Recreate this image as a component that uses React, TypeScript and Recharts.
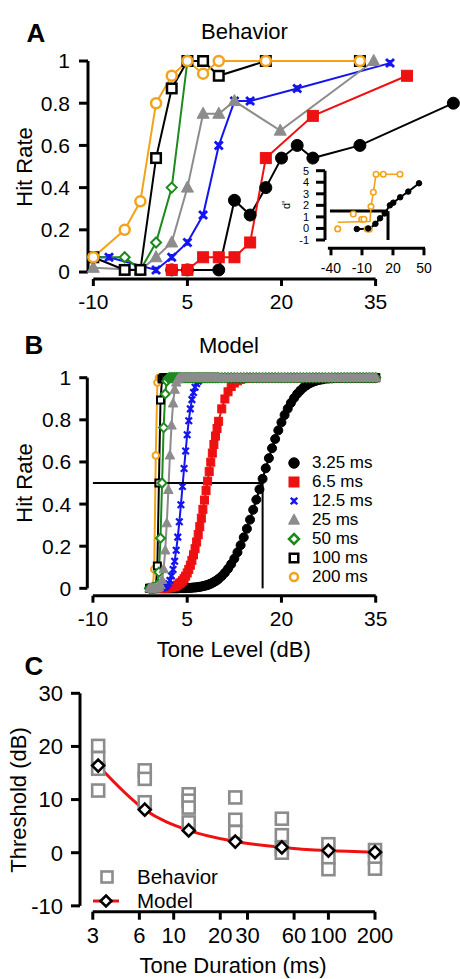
import React from 'react';
import { LineChart, Line, XAxis, YAxis, ReferenceLine, ComposedChart, Scatter } from 'recharts';

const FONT = "'Liberation Sans', Arial, Helvetica, sans-serif";

// ---------------- Panel A: behavior (hit rate vs tone level) ----------------
const behav325Levels = [2.5, 5, 10, 12.5, 15, 17.5, 20, 22.5, 25, 32.5, 47.4];
const behav325Rates = [0.01, 0.01, 0.01, 0.34, 0.27, 0.4, 0.54, 0.6, 0.54, 0.6, 0.8];
const behav65Levels = [2.5, 5, 7.5, 10, 12.5, 15, 17.5, 25, 40];
const behav65Rates = [0.01, 0.01, 0.07, 0.07, 0.07, 0.14, 0.54, 0.74, 0.93];
const behav125Levels = [-10, -7.5, 0, 2.5, 5, 7.5, 10, 12.5, 15, 22.5, 37.3];
const behav125Rates = [0.07, 0.07, 0.01, 0.07, 0.14, 0.27, 0.6, 0.81, 0.81, 0.87, 0.99];
const behav25Levels = [-10, -2.5, 0, 2.5, 5, 7.5, 10, 12.5, 19.8, 34.7];
const behav25Rates = [0.02, 0.01, 0.07, 0.14, 0.4, 0.75, 0.75, 0.81, 0.67, 1.0];
const behav50Levels = [-10, -5, -2.5, 0, 2.5, 5];
const behav50Rates = [0.07, 0.07, 0.01, 0.14, 0.4, 1.0];
const behav100Levels = [-10, -5, -2.5, 0, 2.5, 5, 7.5, 10, 17.5, 32.5];
const behav100Rates = [0.07, 0.01, 0.01, 0.54, 0.87, 1.0, 1.0, 0.93, 1.0, 1.0];
const behav200Levels = [-10, -5, -2.5, 0, 2.5, 5, 7.5, 10, 17.5, 32.5];
const behav200Rates = [0.07, 0.2, 0.335, 0.8, 0.93, 1.0, 0.94, 1.0, 1.0, 1.0];

const hitTicks = [0, 0.2, 0.4, 0.6, 0.8, 1];
const levelTicks = [-10, 5, 20, 35];

// inset (d')
const insetFitLevels = [-33.5, -2.2, -1.3, 1.0, 3.6, 26.8];
const insetFitValues = [0.54, 0.6, 1.89, 3.13, 4.69, 4.69];
const inset200Levels = [-33.5, -18.4, -10.3, -8.1, -5, -2.9, -1.3, 1.0, 3.6, 10.6, 26.8];
const inset200Values = [-0.04, 1.25, 0.8, 0.8, -0.05, -0.07, 1.89, 3.13, 4.69, 4.69, 4.69];
const inset325Levels = [-15, -4, 3, 7.5, 12, 17, 20.3, 27, 34.8, 45.2];
const inset325Values = [-0.05, 0.0, 0.4, 0.88, 1.3, 2.0, 2.23, 2.7, 3.19, 3.91];
const insetXTicks = [-40, -10, 20, 50];
const insetYTicks = [-1, 0, 1, 2, 3, 4, 5];
const insetCriterion = 1.5;
const insetThresholdLevel = 15.2;

// ---------------- Panel B: model ----------------
const modelLevels = [
  -1, -0.75, -0.5, -0.25, 0, 0.25, 0.5, 0.75, 1, 1.25,
  1.5, 1.75, 2, 2.25, 2.5, 2.75, 3, 3.25, 3.5, 3.75,
  4, 4.25, 4.5, 4.75, 5, 5.25, 5.5, 5.75, 6, 6.25,
  6.5, 6.75, 7, 7.25, 7.5, 7.75, 8, 8.25, 8.5, 8.75,
  9, 9.25, 9.5, 9.75, 10,
  10.5, 11, 11.5, 12, 12.5, 13, 13.5, 14, 14.5, 15,
  15.5, 16, 16.5, 17, 17.5, 18, 18.5, 19, 19.5, 20,
  20.5, 21, 21.5, 22, 22.5, 23, 23.5, 24, 24.5, 25,
  25.5, 26, 26.5, 27, 27.5, 28, 28.5, 29, 29.5, 30,
  30.5, 31, 31.5, 32, 32.5, 33, 33.5, 34, 34.5, 35,
];
const model325 = [
  0, 0, 0, 0, 0, 0, 0, 0, 0, 0,
  0, 0, 0, 0, 0, 0, 0, 0, 0, 0.001,
  0.001, 0.001, 0.001, 0.001, 0.002, 0.002, 0.002, 0.003, 0.004, 0.004,
  0.005, 0.006, 0.007, 0.009, 0.01, 0.012, 0.014, 0.016, 0.019, 0.022,
  0.026, 0.03, 0.034, 0.039, 0.045,
  0.058, 0.074, 0.093, 0.115, 0.141, 0.171, 0.205, 0.242, 0.283, 0.326,
  0.373, 0.421, 0.47, 0.52, 0.57, 0.618, 0.665, 0.709, 0.75, 0.788,
  0.823, 0.853, 0.88, 0.903, 0.923, 0.939, 0.953, 0.964, 0.973, 0.98,
  0.985, 0.989, 0.992, 0.995, 0.996, 0.997, 0.998, 0.999, 0.999, 1,
  1, 1, 1, 1, 1, 1, 1, 1, 1, 1,
];
const model65 = [
  0, 0, 0, 0, 0, 0, 0, 0, 0.001, 0.001,
  0.001, 0.002, 0.002, 0.003, 0.005, 0.007, 0.009, 0.012, 0.016, 0.022,
  0.028, 0.036, 0.046, 0.058, 0.073, 0.09, 0.11, 0.133, 0.159, 0.188,
  0.22, 0.255, 0.293, 0.333, 0.375, 0.419, 0.464, 0.509, 0.554, 0.599,
  0.642, 0.683, 0.723, 0.759, 0.793,
  0.852, 0.899, 0.933, 0.958, 0.975, 0.985, 0.992, 0.996, 0.998, 0.999,
  1, 1, 1, 1, 1, 1, 1, 1, 1, 1,
  1, 1, 1, 1, 1, 1, 1, 1, 1, 1,
  1, 1, 1, 1, 1, 1, 1, 1, 1, 1,
  1, 1, 1, 1, 1, 1, 1, 1, 1, 1,
];
const model125 = [
  0, 0, 0, 0, 0, 0, 0.001, 0.001, 0.002, 0.004,
  0.007, 0.013, 0.023, 0.037, 0.059, 0.089, 0.129, 0.181, 0.243, 0.316,
  0.397, 0.483, 0.569, 0.652, 0.729, 0.796, 0.852, 0.896, 0.93, 0.955,
  0.972, 0.983, 0.991, 0.995, 0.997, 0.999, 0.999, 1, 1, 1,
  1, 1, 1, 1, 1,
  1, 1, 1, 1, 1, 1, 1, 1, 1, 1,
  1, 1, 1, 1, 1, 1, 1, 1, 1, 1,
  1, 1, 1, 1, 1, 1, 1, 1, 1, 1,
  1, 1, 1, 1, 1, 1, 1, 1, 1, 1,
  1, 1, 1, 1, 1, 1, 1, 1, 1, 1,
];
const model25 = [
  0, 0, 0, 0, 0, 0.001, 0.005, 0.015, 0.04, 0.091,
  0.18, 0.309, 0.467, 0.631, 0.773, 0.878, 0.943, 0.977, 0.992, 0.998,
  0.999, 1, 1, 1, 1, 1, 1, 1, 1, 1,
  1, 1, 1, 1, 1, 1, 1, 1, 1, 1,
  1, 1, 1, 1, 1,
  1, 1, 1, 1, 1, 1, 1, 1, 1, 1,
  1, 1, 1, 1, 1, 1, 1, 1, 1, 1,
  1, 1, 1, 1, 1, 1, 1, 1, 1, 1,
  1, 1, 1, 1, 1, 1, 1, 1, 1, 1,
  1, 1, 1, 1, 1, 1, 1, 1, 1, 1,
];
const model50 = [
  0, 0, 0, 0, 0.002, 0.016, 0.077, 0.238, 0.5, 0.763,
  0.923, 0.984, 0.998, 1, 1, 1, 1, 1, 1, 1,
  1, 1, 1, 1, 1, 1, 1, 1, 1, 1,
  1, 1, 1, 1, 1, 1, 1, 1, 1, 1,
  1, 1, 1, 1, 1,
  1, 1, 1, 1, 1, 1, 1, 1, 1, 1,
  1, 1, 1, 1, 1, 1, 1, 1, 1, 1,
  1, 1, 1, 1, 1, 1, 1, 1, 1, 1,
  1, 1, 1, 1, 1, 1, 1, 1, 1, 1,
  1, 1, 1, 1, 1, 1, 1, 1, 1, 1,
];
const model100 = [
  0, 0, 0, 0, 0.006, 0.106, 0.5, 0.894, 0.994, 1,
  1, 1, 1, 1, 1, 1, 1, 1, 1, 1,
  1, 1, 1, 1, 1, 1, 1, 1, 1, 1,
  1, 1, 1, 1, 1, 1, 1, 1, 1, 1,
  1, 1, 1, 1, 1,
  1, 1, 1, 1, 1, 1, 1, 1, 1, 1,
  1, 1, 1, 1, 1, 1, 1, 1, 1, 1,
  1, 1, 1, 1, 1, 1, 1, 1, 1, 1,
  1, 1, 1, 1, 1, 1, 1, 1, 1, 1,
  1, 1, 1, 1, 1, 1, 1, 1, 1, 1,
];
const model200 = [
  0, 0, 0.001, 0.091, 0.631, 0.977, 1, 1, 1, 1,
  1, 1, 1, 1, 1, 1, 1, 1, 1, 1,
  1, 1, 1, 1, 1, 1, 1, 1, 1, 1,
  1, 1, 1, 1, 1, 1, 1, 1, 1, 1,
  1, 1, 1, 1, 1,
  1, 1, 1, 1, 1, 1, 1, 1, 1, 1,
  1, 1, 1, 1, 1, 1, 1, 1, 1, 1,
  1, 1, 1, 1, 1, 1, 1, 1, 1, 1,
  1, 1, 1, 1, 1, 1, 1, 1, 1, 1,
  1, 1, 1, 1, 1, 1, 1, 1, 1, 1,
];
const modelLegendLabels = ['3.25 ms', '6.5 ms', '12.5 ms', '25 ms', '50 ms', '100 ms', '200 ms'];
const modelThresholdLevel = 17;
const modelCriterion = 0.5;

// ---------------- Panel C: thresholds vs duration ----------------
const durations = [3.25, 6.5, 12.5, 25, 50, 100, 200];
const modelThresholds = [16.4, 8.1, 4.2, 2.1, 1.0, 0.4, 0.1];
const behaviorThresholds = [
  [20.1, 17.8, 15.8, 11.7],
  [15.5, 13.9, 9.5],
  [11.0, 9.8, 8.5, 5.7],
  [10.4, 6.2, 3.9],
  [6.4, 3.3, 0.8, 0.0],
  [1.6, -0.9, -3.1],
  [0.5, -1.0, -3.0],
];
const durationTicks = [3, 6, 10, 20, 30, 60, 100, 200];
const thresholdTicks = [-10, 0, 10, 20, 30];

// ---------------- helpers ----------------
const zip = (xs: number[], ys: number[]) => xs.map((x, i) => ({ x, y: ys[i] }));

type Kind = 'circle' | 'square' | 'cross' | 'triangle' | 'diamond';
interface MStyle { kind: Kind; color: string; filled: boolean; size: number; sw: number }

const ORANGE = '#F2A31B';
const RED = '#EE1111';
const BLUE = '#1414EE';
const GREEN = '#1C8A1C';
const GRAY = '#8C8C8C';
const BLACK = '#000000';

function markerEl(st: MStyle, cx: number, cy: number, key?: string) {
  const h = st.size / 2;
  const fill = st.filled ? st.color : '#ffffff';
  switch (st.kind) {
    case 'circle':
      return <circle key={key} cx={cx} cy={cy} r={h} fill={fill} stroke={st.color} strokeWidth={st.sw} />;
    case 'square':
      return <rect key={key} x={cx - h} y={cy - h} width={st.size} height={st.size} fill={fill} stroke={st.color} strokeWidth={st.sw} />;
    case 'diamond':
      return <polygon key={key} points={`${cx},${cy - h} ${cx + h},${cy} ${cx},${cy + h} ${cx - h},${cy}`} fill={fill} stroke={st.color} strokeWidth={st.sw} />;
    case 'triangle':
      return <polygon key={key} points={`${cx},${cy - h * 1.1} ${cx + h},${cy + h * 0.75} ${cx - h},${cy + h * 0.75}`} fill={st.color} stroke={st.color} strokeWidth={1} />;
    case 'cross':
    default:
      return (
        <path key={key} d={`M${cx - h},${cy - h}L${cx + h},${cy + h}M${cx + h},${cy - h}L${cx - h},${cy + h}M${cx},${cy - h * 0.8}L${cx},${cy + h * 0.8}`} stroke={st.color} strokeWidth={st.sw} fill="none" />
      );
  }
}

const dotFn = (st: MStyle, id: string) => (p: any) => {
  const key = `${id}-${p.index}`;
  if (p.cx == null || p.cy == null) return <g key={key} />;
  return markerEl(st, p.cx, p.cy, key);
};

function Txt({ x, y, size, children, bold, rotate, left, lh }: any) {
  const tx = left ? 'translate(0,-50%)' : 'translate(-50%,-50%)';
  return (
    <div
      style={{
        position: 'absolute', left: x, top: y,
        transform: `${tx}${rotate ? ' rotate(-90deg)' : ''}`,
        fontSize: size, fontFamily: FONT, fontWeight: bold ? 700 : 400,
        lineHeight: lh ?? 1, whiteSpace: 'nowrap', color: '#000',
      }}
    >
      {children}
    </div>
  );
}

const axisTick = (size: number) => ({ fill: '#000', fontSize: size, fontFamily: FONT });
const tickLineStyle = { stroke: '#000', strokeWidth: 3 };

// ---------------- styles ----------------
const aStyles: MStyle[] = [
  { kind: 'circle', color: BLACK, filled: true, size: 12, sw: 1 },
  { kind: 'square', color: RED, filled: true, size: 11, sw: 1 },
  { kind: 'cross', color: BLUE, filled: true, size: 8, sw: 2.8 },
  { kind: 'triangle', color: GRAY, filled: true, size: 12, sw: 1 },
  { kind: 'diamond', color: GREEN, filled: false, size: 10, sw: 2 },
  { kind: 'square', color: BLACK, filled: false, size: 9.5, sw: 2.5 },
  { kind: 'circle', color: ORANGE, filled: false, size: 10, sw: 2.5 },
];
const bStyles: MStyle[] = [
  { kind: 'circle', color: BLACK, filled: true, size: 9, sw: 1 },
  { kind: 'square', color: RED, filled: true, size: 8, sw: 1 },
  { kind: 'cross', color: BLUE, filled: true, size: 6.5, sw: 2.2 },
  { kind: 'triangle', color: GRAY, filled: true, size: 9.5, sw: 1 },
  { kind: 'diamond', color: GREEN, filled: false, size: 9, sw: 2 },
  { kind: 'square', color: BLACK, filled: false, size: 7, sw: 2 },
  { kind: 'circle', color: ORANGE, filled: false, size: 6.5, sw: 2 },
];
const legendStyles: MStyle[] = [
  { kind: 'circle', color: BLACK, filled: true, size: 10.5, sw: 1 },
  { kind: 'square', color: RED, filled: true, size: 10, sw: 1 },
  { kind: 'cross', color: BLUE, filled: true, size: 6.5, sw: 2.4 },
  { kind: 'triangle', color: GRAY, filled: true, size: 11, sw: 1 },
  { kind: 'diamond', color: GREEN, filled: false, size: 10, sw: 2.5 },
  { kind: 'square', color: BLACK, filled: false, size: 8.5, sw: 2.5 },
  { kind: 'circle', color: ORANGE, filled: false, size: 8, sw: 2.5 },
];

const behaviorSeries = [
  zip(behav325Levels, behav325Rates),
  zip(behav65Levels, behav65Rates),
  zip(behav125Levels, behav125Rates),
  zip(behav25Levels, behav25Rates),
  zip(behav50Levels, behav50Rates),
  zip(behav100Levels, behav100Rates),
  zip(behav200Levels, behav200Rates),
];
const modelSeries = [model325, model65, model125, model25, model50, model100, model200].map((arr) => zip(modelLevels, arr));
// draw order in model panel (last is on top)
const modelOrder = [0, 1, 2, 6, 5, 4, 3];

// ---------------- Panel A ----------------
const A_X: [number, number] = [-10.85, 47.5];
const A_Y: [number, number] = [-0.033, 1];

function PanelA() {
  return (
    <div style={{ position: 'absolute', left: 0, top: 0, width: 460, height: 320 }}>
      <LineChart width={460} height={320} margin={{ top: 61, right: 6, bottom: 0, left: 28 }}>
        <XAxis type="number" dataKey="x" domain={A_X} ticks={levelTicks} interval={0} axisLine={false}
          tickLine={tickLineStyle} tickSize={7} tickMargin={8} height={41} tick={axisTick(21)} />
        <YAxis type="number" dataKey="y" domain={A_Y} ticks={hitTicks} interval={0} axisLine={false}
          tickLine={tickLineStyle} tickSize={9} tickMargin={9} width={60} tick={axisTick(21)} />
        <ReferenceLine segment={[{ x: A_X[0], y: 0 }, { x: A_X[0], y: 1 }]} stroke="#000" strokeWidth={3} ifOverflow="visible" />
        <ReferenceLine segment={[{ x: -10, y: A_Y[0] }, { x: 35, y: A_Y[0] }]} stroke="#000" strokeWidth={3} ifOverflow="visible" />
        {behaviorSeries.map((d, i) => (
          <Line key={`a${i}`} data={d} dataKey="y" type="linear" stroke={aStyles[i].color} strokeWidth={2}
            dot={dotFn(aStyles[i], `a${i}`)} activeDot={false} isAnimationActive={false} />
        ))}
      </LineChart>
    </div>
  );
}

const IN_X: [number, number] = [-45.8, 53.9];
const IN_Y: [number, number] = [-1.72, 5];
const insetOrangeStyle: MStyle = { kind: 'circle', color: ORANGE, filled: false, size: 5.5, sw: 1.6 };
const insetBlackStyle: MStyle = { kind: 'circle', color: BLACK, filled: true, size: 5.5, sw: 1 };

function Inset() {
  return (
    <div style={{ position: 'absolute', left: 270, top: 160, width: 170, height: 115 }}>
      <LineChart width={170} height={115} margin={{ top: 10.7, right: 12, bottom: 0, left: 20 }}>
        <XAxis type="number" dataKey="x" domain={IN_X} ticks={insetXTicks} interval={0} axisLine={false}
          tickLine={tickLineStyle} tickSize={7} tickMargin={8} height={26.7} tick={axisTick(14)} />
        <YAxis type="number" dataKey="y" domain={IN_Y} ticks={insetYTicks} interval={0} axisLine={false}
          tickLine={tickLineStyle} tickSize={9} tickMargin={7} width={35} tick={axisTick(11)} />
        <ReferenceLine segment={[{ x: IN_X[0], y: -1 }, { x: IN_X[0], y: 5 }]} stroke="#000" strokeWidth={3} ifOverflow="visible" />
        <ReferenceLine segment={[{ x: -43, y: IN_Y[0] }, { x: 51, y: IN_Y[0] }]} stroke="#000" strokeWidth={3} ifOverflow="visible" />
        <ReferenceLine segment={[{ x: -41, y: insetCriterion }, { x: insetThresholdLevel, y: insetCriterion }]} stroke="#000" strokeWidth={3} ifOverflow="visible" />
        <ReferenceLine segment={[{ x: insetThresholdLevel, y: insetCriterion }, { x: insetThresholdLevel, y: -1 }]} stroke="#000" strokeWidth={3} ifOverflow="visible" />
        <Line data={zip(insetFitLevels, insetFitValues)} dataKey="y" type="linear" stroke={ORANGE} strokeWidth={1.6}
          dot={false} activeDot={false} isAnimationActive={false} />
        <Line data={zip(inset200Levels, inset200Values)} dataKey="y" type="linear" stroke="none"
          dot={dotFn(insetOrangeStyle, 'io')} activeDot={false} isAnimationActive={false} />
        <Line data={zip(inset325Levels, inset325Values)} dataKey="y" type="monotone" stroke={BLACK} strokeWidth={2}
          dot={dotFn(insetBlackStyle, 'ib')} activeDot={false} isAnimationActive={false} />
      </LineChart>
      <Txt x={16} y={45} size={11} rotate>d'</Txt>
    </div>
  );
}

// ---------------- Panel B ----------------
const B_X: [number, number] = [-10.9, 35];
const B_Y: [number, number] = [-0.035, 1];

function PanelB() {
  return (
    <div style={{ position: 'absolute', left: 0, top: 330, width: 460, height: 310 }}>
      <LineChart width={460} height={310} margin={{ top: 47.7, right: 84.3, bottom: 0, left: 27.3 }}>
        <XAxis type="number" dataKey="x" domain={B_X} ticks={levelTicks} interval={0} axisLine={false}
          tickLine={tickLineStyle} tickSize={7} tickMargin={8} height={44.3} tick={axisTick(21)} />
        <YAxis type="number" dataKey="y" domain={B_Y} ticks={hitTicks} interval={0} axisLine={false}
          tickLine={tickLineStyle} tickSize={8} tickMargin={8} width={60} tick={axisTick(21)} />
        <ReferenceLine segment={[{ x: B_X[0], y: 0 }, { x: B_X[0], y: 1 }]} stroke="#000" strokeWidth={3} ifOverflow="visible" />
        <ReferenceLine segment={[{ x: -10, y: B_Y[0] }, { x: 35, y: B_Y[0] }]} stroke="#000" strokeWidth={3} ifOverflow="visible" />
        {modelOrder.map((i) => (
          <Line key={`b${i}`} data={modelSeries[i]} dataKey="y" type="linear" stroke={bStyles[i].color} strokeWidth={2}
            dot={dotFn(bStyles[i], `b${i}`)} activeDot={false} isAnimationActive={false} />
        ))}
        <ReferenceLine segment={[{ x: -10, y: modelCriterion }, { x: modelThresholdLevel, y: modelCriterion }]} stroke="#000" strokeWidth={2} ifOverflow="visible" />
        <ReferenceLine segment={[{ x: modelThresholdLevel, y: modelCriterion }, { x: modelThresholdLevel, y: 0 }]} stroke="#000" strokeWidth={2} ifOverflow="visible" />
      </LineChart>
      {modelLegendLabels.map((lab, i) => (
        <React.Fragment key={lab}>
          <svg style={{ position: 'absolute', left: 294 - 9, top: 133 + i * 19 - 9 }} width={18} height={18}>
            {markerEl(legendStyles[i], 9, 9)}
          </svg>
          <Txt x={312} y={133 + i * 19} size={17} left lh={0.9}>{lab}</Txt>
        </React.Fragment>
      ))}
    </div>
  );
}

// ---------------- Panel C ----------------
const C_X: [number, number] = [2.48, 200];
const C_Y: [number, number] = [-11.1, 30];
const behaviorPoints = durations.flatMap((d, i) => behaviorThresholds[i].map((t) => ({ x: d, y: t })));
const squareStyle: MStyle = { kind: 'square', color: GRAY, filled: false, size: 12, sw: 2.6 };
const diamondStyle: MStyle = { kind: 'diamond', color: BLACK, filled: false, size: 12, sw: 2.6 };

function PanelC() {
  return (
    <div style={{ position: 'absolute', left: 0, top: 650, width: 460, height: 329 }}>
      <ComposedChart width={460} height={329} margin={{ top: 43.3, right: 85, bottom: 0, left: 20 }}>
        <XAxis type="number" dataKey="x" scale="log" domain={C_X} ticks={durationTicks} interval={0} axisLine={false}
          tickLine={tickLineStyle} tickSize={8} tickMargin={7.5} height={67.3} tick={axisTick(22)} />
        <YAxis type="number" dataKey="y" domain={C_Y} ticks={thresholdTicks} interval={0} axisLine={false}
          tickLine={tickLineStyle} tickSize={9} tickMargin={8} width={60} tick={axisTick(22)} />
        <ReferenceLine segment={[{ x: C_X[0], y: -10 }, { x: C_X[0], y: 30 }]} stroke="#000" strokeWidth={3} ifOverflow="visible" />
        <ReferenceLine segment={[{ x: 3, y: C_Y[0] }, { x: 200, y: C_Y[0] }]} stroke="#000" strokeWidth={3} ifOverflow="visible" />
        <Scatter data={behaviorPoints} dataKey="y" isAnimationActive={false}
          shape={(p: any) => markerEl(squareStyle, p.cx, p.cy)} />
        <Line data={zip(durations, modelThresholds)} dataKey="y" type="monotone" stroke={RED} strokeWidth={3}
          dot={dotFn(diamondStyle, 'c')} activeDot={false} isAnimationActive={false} />
      </ComposedChart>
      <svg style={{ position: 'absolute', left: 99, top: 219 }} width={16} height={16}>
        {markerEl({ ...squareStyle, size: 11 }, 8, 8)}
      </svg>
      <Txt x={137} y={227} size={20.5} left lh={0.8}>Behavior</Txt>
      <svg style={{ position: 'absolute', left: 90, top: 241.5 }} width={32} height={18}>
        <line x1={3} y1={9} x2={29} y2={9} stroke={RED} strokeWidth={3} />
        {markerEl({ ...diamondStyle, size: 11 }, 16, 9)}
      </svg>
      <Txt x={137} y={251} size={20.5} left lh={0.8}>Model</Txt>
    </div>
  );
}

export default function App() {
  return (
    <div style={{ position: 'absolute', left: 0, top: 0, width: 460, height: 979, background: '#fff', overflow: 'hidden' }}>
      <PanelA />
      <Inset />
      <PanelB />
      <PanelC />
      <Txt x={36} y={33} size={26} bold>A</Txt>
      <Txt x={244.5} y={32} size={22}>Behavior</Txt>
      <Txt x={25} y={167} size={22} rotate>Hit Rate</Txt>
      <Txt x={34} y={345} size={26} bold>B</Txt>
      <Txt x={229} y={345.5} size={22}>Model</Txt>
      <Txt x={25} y={483} size={22} rotate>Hit Rate</Txt>
      <Txt x={233.7} y={650} size={22}>Tone Level (dB)</Txt>
      <Txt x={34} y={666} size={26} bold>C</Txt>
      <Txt x={19} y={800} size={22} rotate>Threshold (dB)</Txt>
      <Txt x={233} y={966} size={22}>Tone Duration (ms)</Txt>
    </div>
  );
}
